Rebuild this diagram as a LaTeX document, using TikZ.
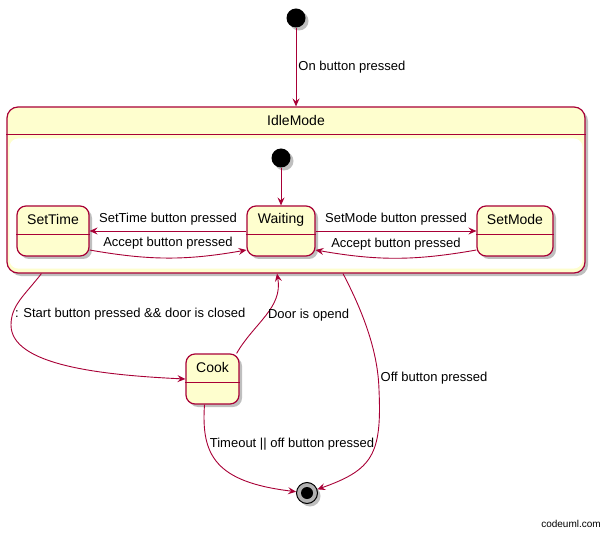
\documentclass[tikz,border=0pt]{standalone}
\usepackage{fontspec}
\setmainfont{Liberation Sans}
\usepackage{xcolor}
\usepackage{tikz}
\usetikzlibrary{arrows.meta, shadows}
\definecolor{umlred}{HTML}{A80036}
\definecolor{umlyellow}{HTML}{FEFECE}
\newcommand*{\lblfont}{\fontsize{13}{15}\selectfont}
\newcommand*{\namefont}{\fontsize{14}{16}\selectfont}
\newcommand*{\umlstate}[4]{%
    \node[statebox, minimum width=#3] (#1) at (#2) {};
    \node[statename] (#1name) at ([yshift=-14pt]#1.north) {#4};
    \draw[umlline] ([yshift=-29pt]#1.north west) -- ([yshift=-29pt]#1.north east);
}
\tikzset{
    umlline/.style={draw=umlred, line width=1.2pt},
    umlshadow/.style={drop shadow={shadow xshift=3pt, shadow yshift=-3pt, opacity=.25, fill=black}},
    statebox/.style={rectangle, draw=umlred, fill=umlyellow, line width=1.2pt, rounded corners=9pt, minimum height=50pt, inner sep=0pt, umlshadow},
    compbox/.style={statebox, rounded corners=11pt},
    statename/.style={font=\namefont, inner sep=1pt},
    initstate/.style={circle, fill=black, minimum size=19pt, inner sep=0pt, umlshadow},
    finalstate/.style={circle, draw=black, fill=black!30, line width=1pt, minimum size=21pt, inner sep=0pt, umlshadow},
    finaldot/.style={circle, fill=black, minimum size=12pt, inner sep=0pt},
    trans/.style={draw=umlred, line width=.9pt, -{Stealth[length=8pt, width=7pt, inset=3pt]}},
    lbl/.style={font=\lblfont, text=black, inner sep=2pt}
}

\begin{document}
\begin{tikzpicture}[x=1pt, y=1pt]

            \useasboundingbox (0,0) rectangle (604,-534);

            \node[initstate] (init) at (296,-18) {};

            \node[compbox, minimum width=578pt, minimum height=166pt] (idle) at (296,-190) {};
            \draw[umlline] ([yshift=-28pt]idle.north west) -- ([yshift=-28pt]idle.north east);
            \fill[white, rounded corners=9pt] ([shift={(3pt,-32pt)}]idle.north west) rectangle ([shift={(-3pt,5pt)}]idle.south east);
            \node[statename] (idlename) at ([yshift=-14pt]idle.north) {IdleMode};

            \node[initstate] (idleinit) at (281,-158) {};
            \umlstate{waiting}{281,-231}{68pt}{Waiting}
            \umlstate{settime}{53,-231}{72pt}{SetTime}
            \umlstate{setmode}{515,-231}{76pt}{SetMode}
            \umlstate{cook}{212.5,-379}{53pt}{Cook}

            \node[finalstate] (final) at (307,-493) {};
            \node[finaldot] (finaldot) at (final) {};

            \draw[trans] (init) -- node[lbl, right] {On button pressed} (idle);
            \draw[trans] (idleinit) -- (waiting);

            \draw[trans] (waiting.west) -- node[lbl, above=3pt] {SetTime button pressed} (settime.east);
            \draw[trans] ([yshift=-19pt]settime.east) to[out=-10, in=190] node[lbl, above=6pt] {Accept button pressed} ([yshift=-19pt]waiting.west);
            \draw[trans] (waiting.east) -- node[lbl, above=3pt] {SetMode button pressed} (setmode.west);
            \draw[trans] ([yshift=-19pt]setmode.west) to[out=190, in=-10] node[lbl, above=6pt] {Accept button pressed} ([yshift=-19pt]waiting.east);

            \draw[trans] ([xshift=35pt]idle.south west) .. controls (25,-295) and (11,-305) .. (11,-325) node[lbl, right, pos=.8] {: Start button pressed \&\& door is closed} .. controls (11,-365) and (100,-375) .. (cook.west);
            \draw[trans] ([xshift=-3pt]cook.north east) to[out=60, in=-80] node[lbl, right, pos=.5] {Door is opend} ([xshift=-19pt]idle.south);
            \draw[trans] ([xshift=47pt]idle.south) .. controls (362,-310) and (378,-350) .. (379,-390) node[lbl, right, pos=.9] {Off button pressed} .. controls (382,-455) and (372,-470) .. (final);
            \draw[trans] ([xshift=-8pt]cook.south) .. controls (201,-455) and (215,-482) .. (final) node[lbl, right, pos=.3] {Timeout || off button pressed};

            \node[font=\fontsize{10}{12}\selectfont] (credit) at (571,-524) {codeuml.com};
\end{tikzpicture}
\end{document}
